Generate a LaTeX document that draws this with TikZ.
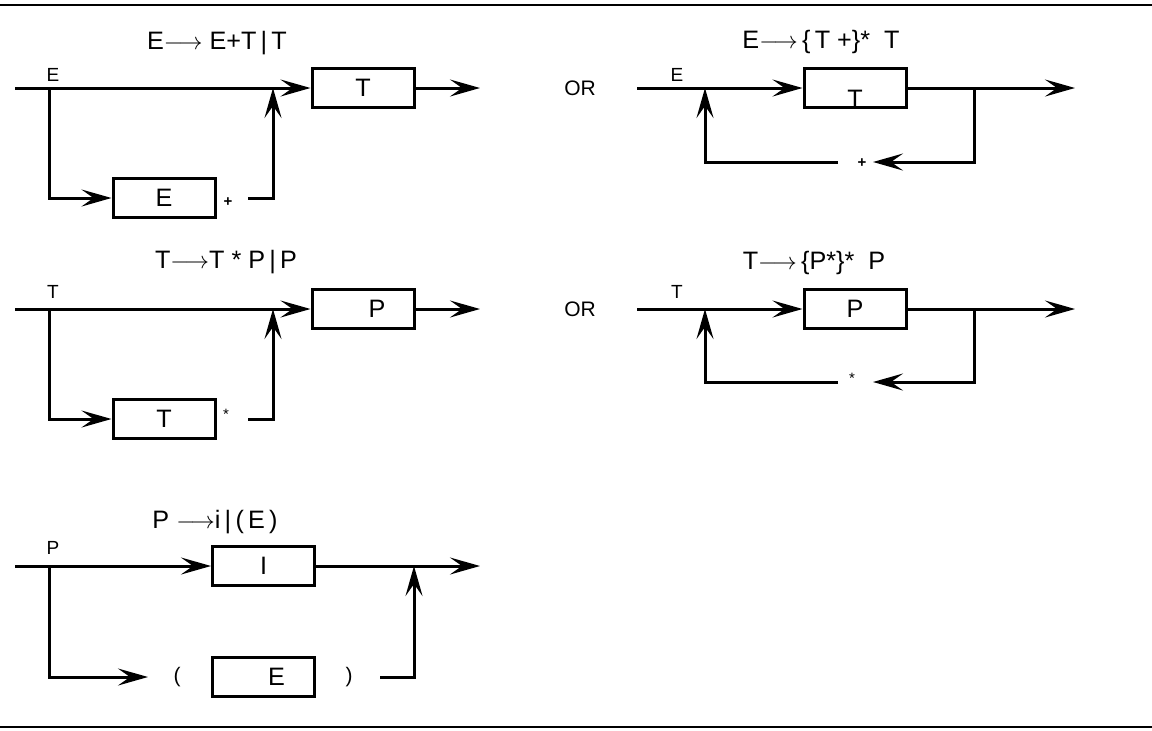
\documentclass[tikz,border=0pt]{standalone}
\usepackage{fontspec}
\setmainfont{Liberation Sans}
\usetikzlibrary{arrows.meta}

\begin{document}
\begin{tikzpicture}[x=0.5pt, y=-0.5pt, line width=1.5pt]
    \tikzset{box/.style={
      draw, rectangle, inner sep=0pt,
      minimum width=51pt, minimum height=19.5pt,
      font=\fontsize{12.6}{14}\selectfont}}
    \tikzset{lbl/.style={inner sep=0pt, font=\fontsize{9.5}{11}\selectfont}}
    \tikzset{heading/.style={inner sep=0pt, font=\fontsize{12.6}{14}\selectfont}}
    \tikzset{sym/.style={inner sep=0pt, font=\fontsize{7.5}{8}\selectfont}}
    \tikzset{flow/.style={-{Stealth[length=15pt, width=8.5pt, inset=6pt]}}}

    \useasboundingbox (0, 0) rectangle (1152, 730);

    % Rules
    \coordinate (ruleTL) at (0, 5);    \coordinate (ruleTR) at (1152, 5);
    \coordinate (ruleBL) at (0, 727);  \coordinate (ruleBR) at (1152, 727);
    \draw [line width=1pt] (ruleTL) -- (ruleTR);
    \draw [line width=1pt] (ruleBL) -- (ruleBR);

    % E -> E+T | T
    \node [heading] (eAhead) at (217, 43) {E$\longrightarrow$ E+T\,|\,T};
    \node [lbl] (eAlhs) at (53, 75) {E};
    \coordinate (eAin) at (15, 88);
    \coordinate (eAfork) at (49, 88);
    \node [box] (eAmain) at (363, 88) {T};
    \node [box] (eAalt) at (164, 198) {E};
    \node [sym] (eAsym) at (228, 202) {\textbf{+}};
    \coordinate (eAret) at (248, 198);
    \coordinate (eAjoin) at (273, 88);
    \coordinate (eAout) at (480, 88);
    \node [lbl, font=\fontsize{10.5}{12}\selectfont] (orA) at (580, 88) {OR};

    % E -> {T+}* T
    \node [heading] (eBhead) at (821, 42) {E$\longrightarrow$\,\{\,T +\}*\ \ T};
    \node [lbl] (eBlhs) at (677, 75) {E};
    \coordinate (eBin) at (637, 88);
    \coordinate (eBjoin) at (705, 88);
    \node [box, text height=19pt] (eBmain) at (855, 88) {T};
    \coordinate (eBfork) at (974, 88);
    \coordinate (eBout) at (1075, 88);
    \coordinate (eBtip) at (873, 162);
    \node [sym] (eBsym) at (862, 163) {\textbf{+}};
    \coordinate (eBret) at (838, 162);

    % T -> T*P | P
    \node [heading] (tAhead) at (226, 262) {T$\longrightarrow$T * P\,|\,P};
    \node [lbl] (tAlhs) at (53, 292) {T};
    \coordinate (tAin) at (15, 309);
    \coordinate (tAfork) at (49, 309);
    \node [box] (tAmain) at (363, 309) {\hspace{14pt}P};
    \node [box] (tAalt) at (164, 419) {T};
    \node [sym] (tAsym) at (226, 414) {*};
    \coordinate (tAret) at (248, 419);
    \coordinate (tAjoin) at (273, 309);
    \coordinate (tAout) at (480, 309);
    \node [lbl, font=\fontsize{10.5}{12}\selectfont] (orB) at (580, 309) {OR};

    % T -> {P*}* P
    \node [heading] (tBhead) at (814, 263) {T$\longrightarrow$\,\{P*\}*\ \ P};
    \node [lbl] (tBlhs) at (677, 292) {T};
    \coordinate (tBin) at (637, 309);
    \coordinate (tBjoin) at (705, 309);
    \node [box] (tBmain) at (855, 309) {P};
    \coordinate (tBfork) at (974, 309);
    \coordinate (tBout) at (1075, 309);
    \coordinate (tBtip) at (873, 382);
    \node [sym] (tBsym) at (852, 378) {*};
    \coordinate (tBret) at (838, 382);

    % P -> i | (E)
    \node [heading] (pAhead) at (215, 522) {P $\longrightarrow$i\,|\,(\,E\,)};
    \node [lbl] (pAlhs) at (53, 548) {P};
    \coordinate (pAin) at (15, 566);
    \coordinate (pAfork) at (49, 566);
    \node [box] (pAmain) at (263.5, 566) {I};
    \coordinate (pAout) at (480, 566);
    \coordinate (pAtip) at (148, 677);
    \node [lbl, font=\fontsize{10.5}{12}\selectfont] (pAopen) at (177, 677) {(};
    \node [box] (pAalt) at (263.5, 677) {\hspace{13pt}E};
    \node [lbl, font=\fontsize{10.5}{12}\selectfont] (pAclose) at (349, 677) {)};
    \coordinate (pAret) at (380, 677);
    \coordinate (pAjoin) at (414, 566);

    % Edges
    \draw [flow] (eAin) -- (eAmain);
    \draw [flow] (eAfork) |- (eAalt);
    \draw [flow] (eAret) -| (eAjoin);
    \draw [flow] (eAmain) -- (eAout);

    \draw [flow] (eBin) -- (eBmain);
    \draw [flow] (eBmain) -- (eBout);
    \draw [flow] (eBfork) |- (eBtip);
    \draw [flow] (eBret) -| (eBjoin);

    \draw [flow] (tAin) -- (tAmain);
    \draw [flow] (tAfork) |- (tAalt);
    \draw [flow] (tAret) -| (tAjoin);
    \draw [flow] (tAmain) -- (tAout);

    \draw [flow] (tBin) -- (tBmain);
    \draw [flow] (tBmain) -- (tBout);
    \draw [flow] (tBfork) |- (tBtip);
    \draw [flow] (tBret) -| (tBjoin);

    \draw [flow] (pAin) -- (pAmain);
    \draw [flow] (pAmain) -- (pAout);
    \draw [flow] (pAfork) |- (pAtip);
    \draw [flow] (pAret) -| (pAjoin);
  \end{tikzpicture}
\end{document}
